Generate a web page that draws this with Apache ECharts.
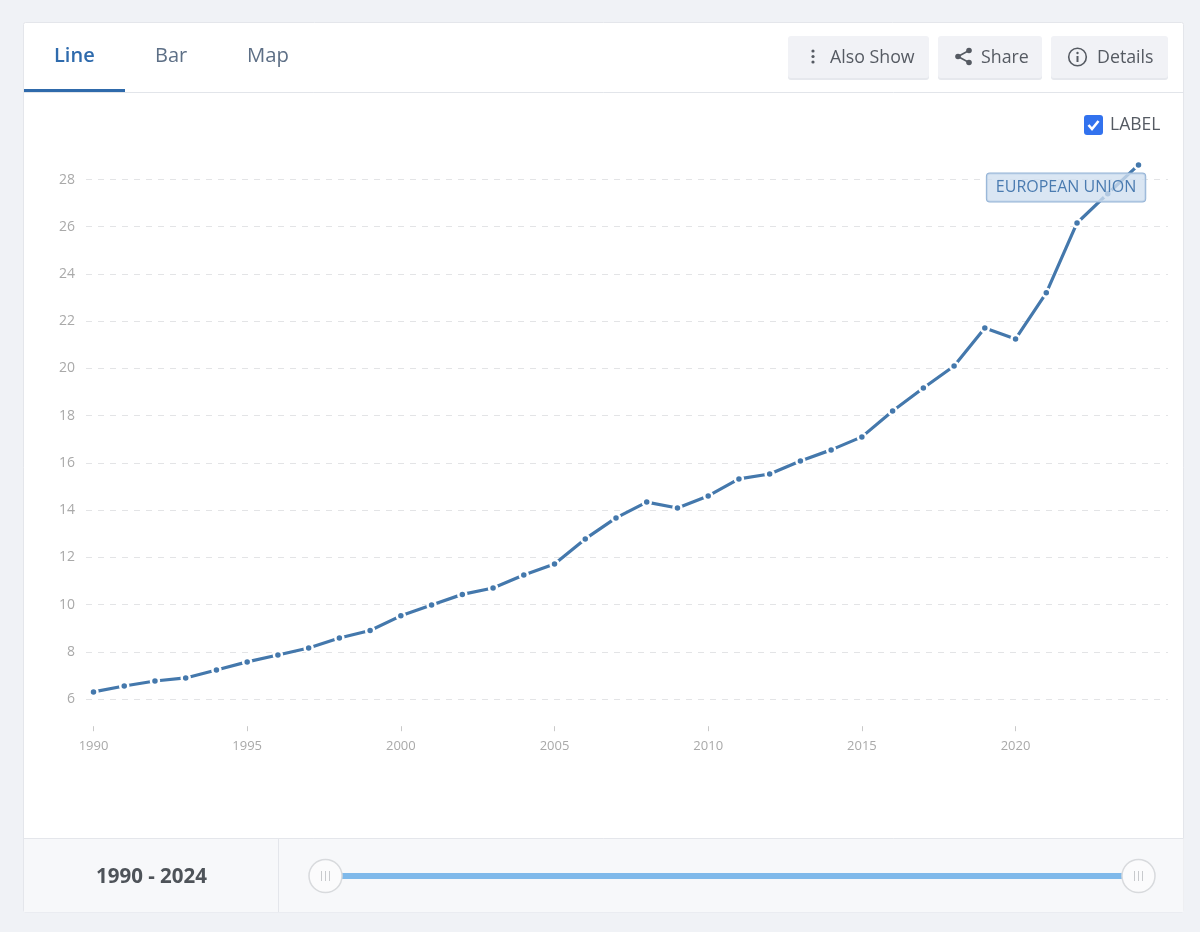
<!DOCTYPE html>
<html>
<head>
<meta charset="utf-8">
<style>html,body{margin:0;padding:0;background:#f0f2f6}#c{width:1200px;height:932px}</style>
<script src="https://cdn.jsdelivr.net/npm/echarts@6/dist/echarts.min.js"></script>
</head>
<body>
<div id="c"></div>
<script>
const years = [1990,1991,1992,1993,1994,1995,1996,1997,1998,1999,2000,2001,2002,2003,2004,2005,2006,2007,2008,2009,2010,2011,2012,2013,2014,2015,2016,2017,2018,2019,2020,2021,2022,2023,2024];
const values = [6.3,6.55,6.76,6.89,7.23,7.57,7.86,8.16,8.58,8.9,9.52,9.98,10.43,10.7,11.25,11.72,12.78,13.67,14.34,14.09,14.6,15.32,15.53,16.08,16.55,17.1,18.2,19.17,20.1,21.71,21.25,23.2,26.16,27.4,28.62];
const xTicks = [1990,1995,2000,2005,2010,2015,2020];
const seriesName = 'EUROPEAN UNION';
const tabs = ['Line','Bar','Map'];
const rangeText = '1990 - 2024';

const FONT = '"Open Sans", sans-serif';
const chart = echarts.init(document.getElementById('c'), null, {renderer:'canvas'});

function txt(x,y,text,size,color,weight,align){
  return {type:'text',x:x,y:y,z:5,style:{text:text,fontFamily:FONT,fontSize:size,fill:color,fontWeight:weight||400,align:align||'left',verticalAlign:'middle'}};
}
function rect(x,y,w,h,fill,r,extra){
  return Object.assign({type:'rect',shape:{x:x,y:y,width:w,height:h,r:r||0},style:Object.assign({fill:fill},extra||{})},{z:1});
}
function button(x,w){
  return [rect(x,38,w,42,'#e6e8ed',3),rect(x,36,w,42,'#f1f2f6',3)];
}
function circ(cx,cy,r,style){return {type:'circle',z:5,shape:{cx:cx,cy:cy,r:r},style:style};}
function seg(x1,y1,x2,y2,color,w){return {type:'line',z:5,shape:{x1:x1,y1:y1,x2:x2,y2:y2},style:{stroke:color,lineWidth:w}};}
const ink='#555a62';

const graphics = [
  // the card
  Object.assign(rect(23.5,22.5,1160,889.5,'#ffffff',2,{stroke:'#e4e6eb',lineWidth:1}),{z:-10}),
  Object.assign(rect(24,838,1159.5,74,'#f7f8fa',0),{z:-9}),
  Object.assign(seg(24,838.5,1183.5,838.5,'#e4e6eb',1),{z:-8}),
  Object.assign(seg(278.5,838,278.5,912,'#e4e6eb',1),{z:-8}),
  // tabs
  seg(24,92.5,1183.5,92.5,'#e2e5ea',1),
  rect(24,89,101,3,'#2f6aab',0),
  txt(54,56,tabs[0],20,'#2f6bad',600),
  txt(155,56,tabs[1],20,'#5d6f86',400),
  txt(247,56,tabs[2],20.3,'#5d6f86',400),
  // buttons
  ...button(788,141),...button(938,104),...button(1051,117),
  circ(813,51,1.6,{fill:ink}),circ(813,56.5,1.6,{fill:ink}),circ(813,62,1.6,{fill:ink}),
  txt(830,57.5,'Also Show',17.8,ink),
  seg(969,50.5,958,56.5,ink,1.6),seg(958,56.5,969,62.5,ink,1.6),
  circ(969,50.5,2.8,{fill:ink}),circ(958,56.5,2.8,{fill:ink}),circ(969,62.5,2.8,{fill:ink}),
  txt(981,57.5,'Share',17.8,ink),
  circ(1077.5,57,8.8,{fill:'none',stroke:ink,lineWidth:1.6}),
  circ(1077.5,53,1.2,{fill:ink}),seg(1077.5,56,1077.5,62,ink,2),
  txt(1097,57.5,'Details',17.8,ink),
  // label checkbox
  rect(1084,115,19,20,'#3272ee',3),
  {type:'polyline',z:5,shape:{points:[[1088.5,125],[1092,129],[1098.5,121]]},style:{fill:'none',stroke:'#ffffff',lineWidth:2.6}},
  txt(1110,125,'LABEL',17.5,ink),
  // range slider
  txt(151.5,877,rangeText,20.5,'#4e5359',700,'center'),
  rect(340,873,784,6,'#7fb9ea',0),
];
[325.5,1138.5].forEach(cx=>{
  graphics.push(circ(cx,876,16.5,{fill:'#fbfbfc',stroke:'#d8dadd',lineWidth:1.5}));
  [-4,0,4].forEach(d=>graphics.push(seg(cx+d,871,cx+d,881,'#c8cacd',1)));
});

const pts = years.map((y,i)=>{
  const p = {value:[y,values[i]]};
  if(i===years.length-1){
    p.label = {
      show:true,position:'left',offset:[17,22.5],formatter:seriesName,
      fontFamily:FONT,fontSize:16,color:'#4a7bb0',
      backgroundColor:'rgba(208,223,240,0.78)',borderColor:'#94b3d6',borderWidth:1,borderRadius:3,
      padding:[7,9,5,9]
    };
  }
  return p;
});

chart.setOption({
  animation:false,
  backgroundColor:'#f0f2f6',
  graphic:graphics,
  grid:{left:86,right:32,top:132.3,bottom:185.8,containLabel:false},
  xAxis:{
    type:'value',min:1989.756,max:2024.96,
    offset:-20,
    axisLine:{show:false},
    splitLine:{show:false},
    axisTick:{show:true,length:5,lineStyle:{color:'#c9c9c9'},customValues:xTicks},
    axisLabel:{customValues:xTicks,color:'#a9a9a9',fontSize:13,fontFamily:FONT,margin:14,formatter:v=>String(v)}
  },
  yAxis:{
    type:'value',min:4,max:30,interval:2,
    axisLine:{show:false},axisTick:{show:false},
    axisLabel:{color:'#a9a9a9',fontSize:14,fontFamily:FONT,margin:11,padding:[2,0,0,0],showMinLabel:false,showMaxLabel:false},
    splitLine:{show:true,showMinLine:false,showMaxLine:false,lineStyle:{color:'#e3e4e6',type:[6,6],width:1}}
  },
  series:[{
    type:'line',name:seriesName,data:pts,
    symbol:'circle',symbolSize:8,showAllSymbol:true,
    lineStyle:{color:'#4478ac',width:3.2},
    itemStyle:{color:'#4478ac',borderColor:'#ffffff',borderWidth:2.5},
    z:3
  }]
});
</script>
</body>
</html>
